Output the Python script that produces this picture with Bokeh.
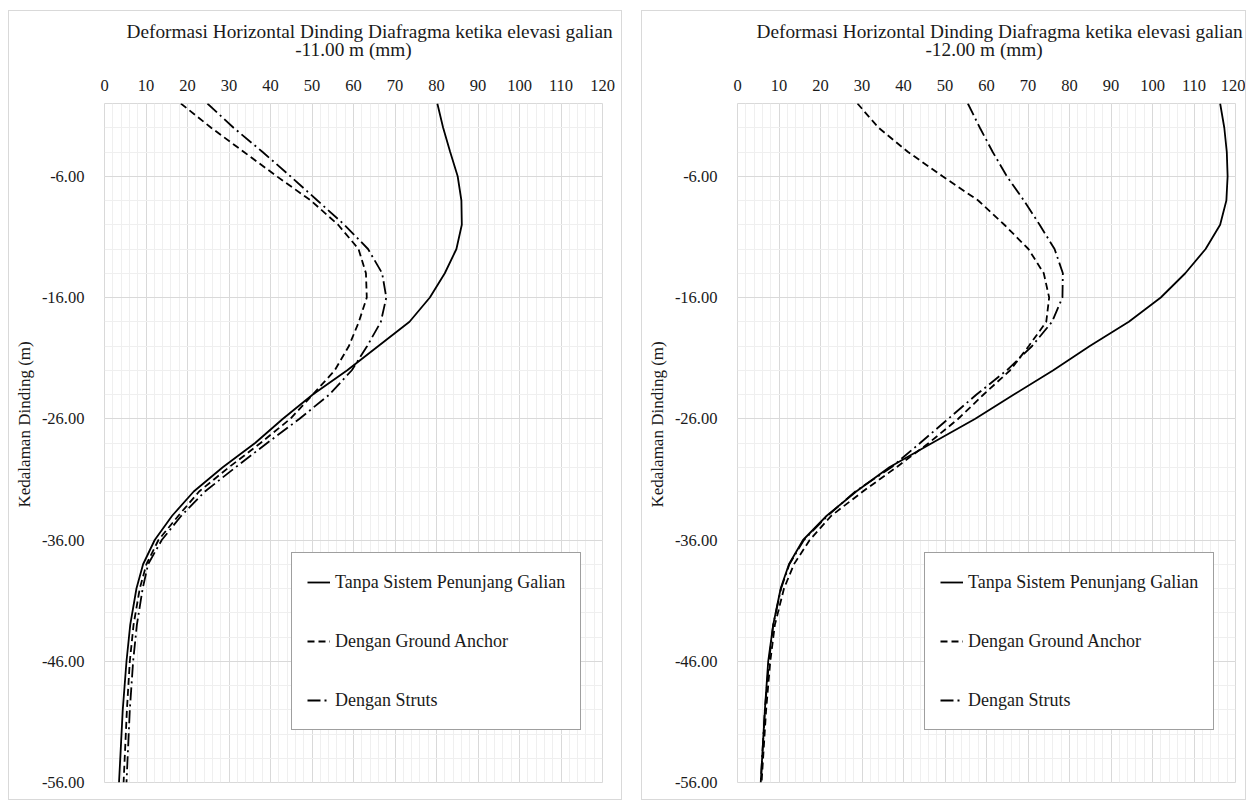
from bokeh.plotting import figure
from bokeh.layouts import row, column
from bokeh.models import Range1d, FixedTicker, NumeralTickFormatter, Title, Spacer
from bokeh.embed import file_html
from bokeh.resources import INLINE

# ---------------- data ----------------
depth = [0, -2, -4, -6, -8, -10, -12, -14, -16, -18, -20, -22, -24, -26, -28,
         -30, -32, -34, -36, -38, -40, -43, -46, -50, -56]

labels = ["Tanpa Sistem Penunjang Galian", "Dengan Ground Anchor", "Dengan Struts"]

# panel 1: excavation elevation -11.00 m
tanpa_11 = [80.2, 81.6, 83.3, 85.1, 86.0, 86.1, 84.8, 82.0, 78.4, 73.5, 66.0, 58.5, 50.2,
            43.0, 36.3, 28.5, 21.5, 16.3, 12.1, 9.3, 7.7, 6.2, 5.3, 4.4, 3.5]
anchor_11 = [18.4, 25.7, 33.6, 41.5, 49.7, 56.3, 61.2, 63.0, 63.2, 61.3, 58.9, 55.5, 50.2,
             44.8, 37.6, 30.0, 22.8, 17.8, 13.0, 10.1, 8.5, 7.0, 6.1, 5.4, 4.6]
struts_11 = [24.8, 31.1, 38.1, 44.8, 51.3, 57.8, 63.5, 66.9, 67.9, 66.6, 63.3, 59.6, 54.2,
             47.0, 39.2, 31.6, 24.2, 18.5, 13.8, 10.5, 9.2, 7.8, 6.9, 6.1, 5.3]

# panel 2: excavation elevation -12.00 m
tanpa_12 = [116.3, 117.3, 117.9, 118.1, 117.8, 116.3, 112.8, 107.9, 102.0, 94.3, 84.9, 76.1, 66.6,
            57.3, 46.9, 36.6, 28.6, 21.5, 15.8, 12.4, 10.4, 8.6, 7.4, 6.6, 5.6]
anchor_12 = [28.9, 34.0, 41.1, 49.4, 58.0, 64.3, 70.1, 73.8, 75.1, 74.4, 70.2, 65.7, 59.3,
             53.2, 46.1, 38.3, 30.2, 22.6, 17.4, 13.6, 11.2, 9.0, 7.9, 6.9, 5.8]
struts_12 = [55.5, 58.4, 61.5, 64.9, 69.0, 72.8, 76.4, 78.4, 78.3, 75.8, 71.0, 64.9, 57.6,
             50.8, 44.0, 37.1, 28.4, 21.7, 16.0, 12.5, 10.5, 8.6, 7.6, 6.6, 5.6]

x_ticks = list(range(0, 121, 10))
x_minor = list(range(0, 121, 2))
y_ticks = [-6, -16, -26, -36, -46, -56]
y_minor = list(range(-56, 1, 2))

title_top = "Deformasi Horizontal Dinding Diafragma ketika elevasi galian"
title_sub_1 = "-11.00 m (mm)"
title_sub_2 = "-12.00 m  (mm)"
y_label = "Kedalaman Dinding (m)"

FONT = "Liberation Serif"
TXT = "#1a1a1a"


def panel(sub, s, a, st, left, right, off1):
    p = figure(frame_width=496, frame_height=677,
               x_range=Range1d(0, 120), y_range=Range1d(-56, 0),
               x_axis_location="above", output_backend="svg", toolbar_location=None,
               min_border_left=left, min_border_right=right, min_border_top=92,
               min_border_bottom=19)
    p.styles = {"border": "1px solid #d9d9d9"}

    # first title line
    p.title.text = title_top
    p.title.align = "left"
    p.title.vertical_align = "middle"
    p.title.offset = off1
    p.title.text_font = FONT
    p.title.text_font_size = "19.3px"
    p.title.text_font_style = "normal"
    p.title.text_color = TXT
    p.title.standoff = -14

    xa = p.xaxis[0]
    xa.ticker = FixedTicker(ticks=x_ticks, minor_ticks=x_minor)
    # second title line, carried by the top axis
    xa.axis_label = sub
    xa.axis_label_standoff = 17
    xa.axis_label_text_font = FONT
    xa.axis_label_text_font_size = "19.3px"
    xa.axis_label_text_font_style = "normal"
    xa.axis_label_text_color = TXT

    ya = p.yaxis[0]
    ya.ticker = FixedTicker(ticks=y_ticks, minor_ticks=y_minor)
    ya.formatter = NumeralTickFormatter(format="0.00")
    for ax in (xa, ya):
        ax.axis_line_color = None
        ax.major_tick_line_color = None
        ax.minor_tick_line_color = None
        ax.major_label_text_font = FONT
        ax.major_label_text_font_size = "16.5px"
        ax.major_label_text_color = TXT
    xa.major_label_standoff = 7
    ya.major_label_standoff = 14

    # y-axis title
    p.add_layout(Title(text=y_label, align="left", offset=275, vertical_align="middle",
                       standoff=8, text_font=FONT, text_font_size="17px",
                       text_font_style="normal", text_color=TXT), "left")

    p.xgrid.grid_line_color = "#d9d9d9"
    p.ygrid.grid_line_color = "#d9d9d9"
    p.xgrid.minor_grid_line_color = "#efefef"
    p.ygrid.minor_grid_line_color = "#efefef"
    p.outline_line_color = "#d9d9d9"

    p.line(s, depth, line_color="black", line_width=1.8, legend_label=labels[0])
    p.line(a, depth, line_color="black", line_width=1.8, line_dash="7 4", legend_label=labels[1])
    p.line(st, depth, line_color="black", line_width=1.8, line_dash="13 4 2 4", legend_label=labels[2])

    lg = p.legend[0]
    lg.location = (187, 52)
    lg.border_line_color = "#404040"
    lg.border_line_width = 1
    lg.background_fill_color = "white"
    lg.background_fill_alpha = 1
    lg.label_text_font = FONT
    lg.label_text_font_size = "18px"
    lg.label_text_color = TXT
    lg.glyph_width = 23
    lg.glyph_height = 28
    lg.label_height = 28
    lg.spacing = 31
    lg.padding = 15
    lg.margin = 0
    lg.label_standoff = 5
    return p


p1 = panel(title_sub_1, tanpa_11, anchor_11, struts_11, 95, 21, 22)
p2 = panel(title_sub_2, tanpa_12, anchor_12, struts_12, 94, 12, 19)

layout = column(Spacer(height=10), row(Spacer(width=8), p1, Spacer(width=19), p2))
open("out.html", "w").write(file_html(layout, INLINE))
